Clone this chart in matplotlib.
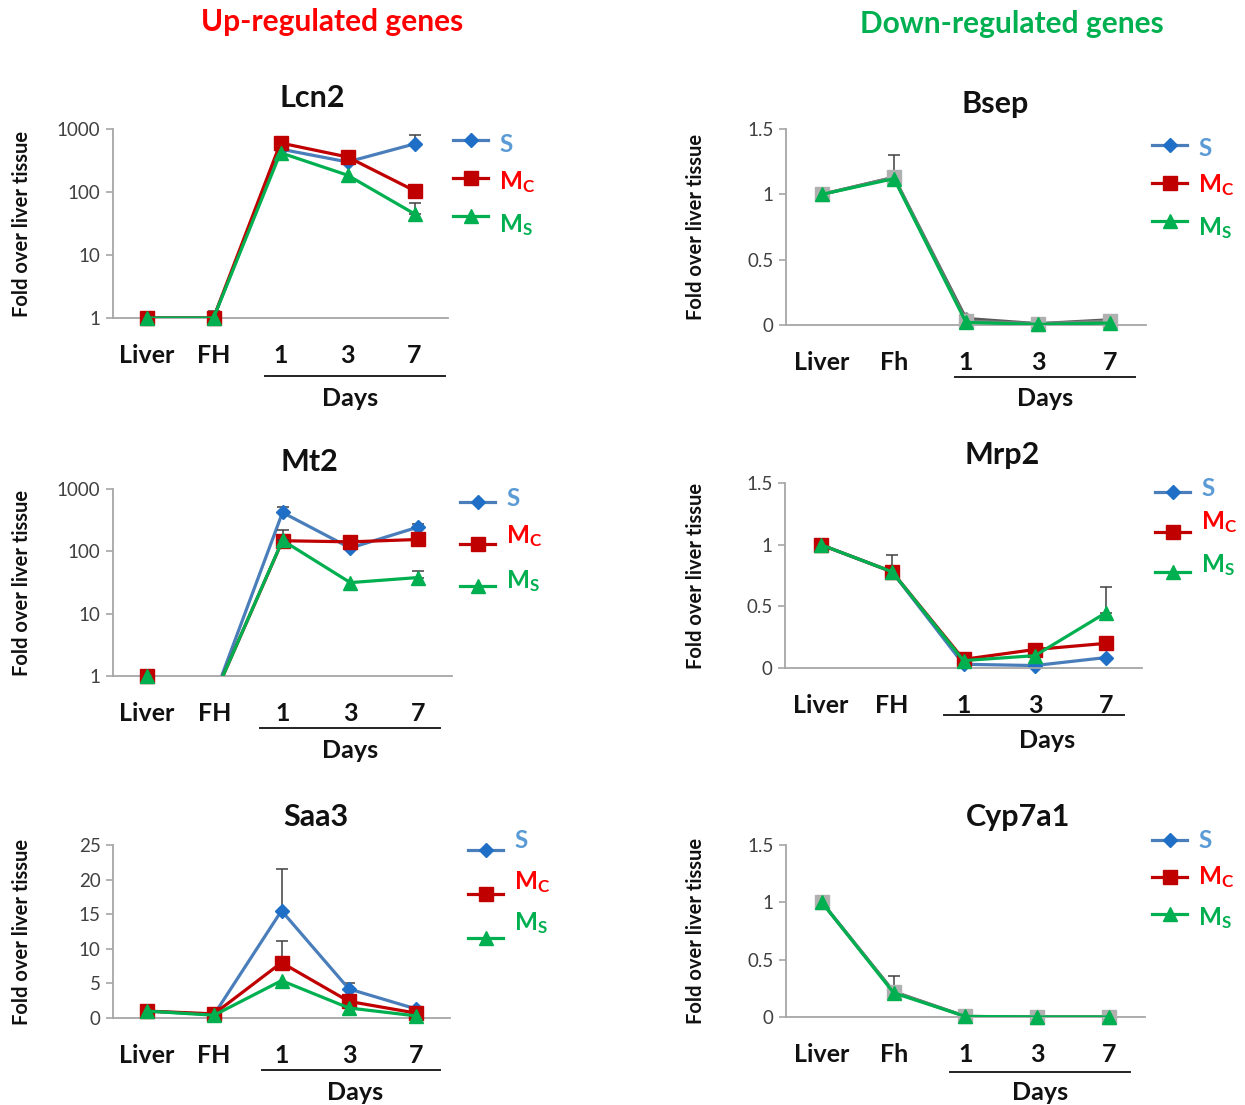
import matplotlib
matplotlib.use("Agg")
import matplotlib.pyplot as plt
from matplotlib.lines import Line2D
import numpy as np

plt.rcParams['font.family'] = ['Lato', 'DejaVu Sans']
plt.rcParams['mathtext.fontset'] = 'custom'
plt.rcParams['mathtext.rm'] = 'Lato'
plt.rcParams['mathtext.bf'] = 'Lato:bold'
plt.rcParams['mathtext.it'] = 'Lato:italic'

# categories
cats_up = ['Liver', 'FH', '1', '3', '7']
cats_fh = ['Liver', 'Fh', '1', '3', '7']

# Lcn2
lcn2_s = [1, 1, 480, 300, 580]
lcn2_mc = [1, 1, 600, 360, 105]
lcn2_ms = [1, 1, 420, 185, 45]
lcn2_s_err = [0, 0.3, 0, 0, 220]
lcn2_mc_err = [0, 0, 0, 0, 0]
lcn2_ms_err = [0, 0, 0, 0, 21]

# Mt2
mt2_s = [1, 0.5, 420, 113, 245]
mt2_mc = [1, 0.5, 148, 142, 155]
mt2_ms = [1, 0.5, 150, 31.5, 38]
mt2_s_err = [0, 0, 100, 0, 30]
mt2_mc_err = [0, 0, 0, 0, 0]
mt2_ms_err = [0, 0, 68, 0, 10]

# Saa3
saa3_s = [1, 0.5, 15.5, 4.2, 1.3]
saa3_mc = [1, 0.6, 8.0, 2.4, 0.7]
saa3_ms = [1, 0.4, 5.4, 1.45, 0.3]
saa3_s_err = [0, 0, 6.0, 0.8, 0.3]
saa3_mc_err = [0, 0, 3.15, 0, 0]
saa3_ms_err = [0, 0, 0, 0, 0]

# Bsep
bsep_s = [1, 1.13, 0.05, 0.01, 0.04]
bsep_mc = [1, 1.13, 0.03, 0.01, 0.03]
bsep_ms = [1, 1.12, 0.02, 0.005, 0.015]
bsep_s_err = [0, 0.17, 0.03, 0, 0.02]
bsep_mc_err = [0, 0, 0, 0, 0]
bsep_ms_err = [0, 0, 0, 0, 0]

# Mrp2
mrp2_s = [1, 0.78, 0.03, 0.02, 0.085]
mrp2_mc = [1, 0.78, 0.07, 0.15, 0.2]
mrp2_ms = [1, 0.78, 0.06, 0.1, 0.45]
mrp2_s_err = [0, 0, 0, 0, 0]
mrp2_mc_err = [0, 0.14, 0, 0, 0]
mrp2_ms_err = [0, 0, 0, 0, 0.21]

# Cyp7a1
cyp_s = [1, 0.22, 0.005, 0.0, 0.0]
cyp_mc = [1, 0.22, 0.005, 0.0, 0.0]
cyp_ms = [1, 0.21, 0.005, 0.0, 0.0]
cyp_s_err = [0, 0.14, 0, 0, 0]
cyp_mc_err = [0, 0, 0, 0, 0]
cyp_ms_err = [0, 0, 0, 0, 0]

W, H = 1245, 1105
fig = plt.figure(figsize=(W / 100, H / 100), dpi=100)

BLUE_L, BLUE_M, BLUE_T = '#4a7ebb', '#1f6fc6', '#5b9bd5'
RED, RED_T = '#c00000', '#ff0000'
GREEN = '#00b050'


def fx(x):
    return x / W


def fy(y):
    return 1 - y / H


def draw_series(ax, y, err, color, mcolor, marker, ms, log, z):
    x = np.arange(len(y))
    y = np.array(y, dtype=float)
    ax.plot(x, y, color=color, lw=2.3, zorder=z, clip_on=True)
    lo = 1 if log else 0
    keep = y >= lo
    ax.plot(x[keep], y[keep], ls='none', marker=marker, ms=ms, color=mcolor,
            mec=mcolor, zorder=z + 0.5, clip_on=False)
    err = np.array(err, dtype=float)
    e = err > 0
    if e.any():
        ax.errorbar(x[e], y[e], yerr=[np.zeros(e.sum()), err[e]], fmt='none',
                    ecolor='#404040', elinewidth=1.1, capsize=4, capthick=1.1,
                    zorder=z - 0.5, clip_on=False)


def panel(box, cats, title, title_xy, series, log, ylim, yticks, ylabels,
          ylabel_x, days, legend, grey=False):
    l, t, r, b = box
    ax = fig.add_axes([fx(l), fy(b), fx(r - l), (b - t) / H])
    (s, se), (mc, mce), (msr, mse) = series
    if grey:
        draw_series(ax, s, se, '#595959', '#8c8c8c', 'D', 6, log, 2)
        draw_series(ax, mc, mce, '#7f7f7f', '#b0b0b0', 's', 10, log, 3)
    else:
        draw_series(ax, s, se, BLUE_L, BLUE_M, 'D', 7, log, 2)
        draw_series(ax, mc, mce, RED, RED, 's', 10, log, 3)
    draw_series(ax, msr, mse, GREEN, GREEN, '^', 10, log, 4)
    if log:
        ax.set_yscale('log')
    ax.set_ylim(*ylim)
    ax.set_xlim(-0.5, 4.5)
    ax.set_yticks(yticks)
    ax.set_yticklabels(ylabels)
    ax.yaxis.set_minor_locator(matplotlib.ticker.NullLocator())
    ax.set_xticks(range(5))
    ax.set_xticklabels(cats, fontsize=18, fontweight='bold', color='#111111')
    ax.tick_params(axis='x', length=0, pad=19)
    ax.tick_params(axis='y', length=5, width=1.2, color='#a6a6a6',
                   labelsize=13.5, labelcolor='#404040', pad=4)
    for sp in ['top', 'right']:
        ax.spines[sp].set_visible(False)
    for sp in ['left', 'bottom']:
        ax.spines[sp].set_color('#a6a6a6')
        ax.spines[sp].set_linewidth(1.3)
    ax.set_ylabel('Fold over liver tissue', fontsize=14.5, fontweight='bold',
                  color='#111111')
    ax.yaxis.set_label_coords(-(l - ylabel_x) / (r - l), 0.5)
    fig.text(fx(title_xy[0]), fy(title_xy[1]), title, fontsize=22,
             fontweight='bold', ha='center', va='center', color='#111111')
    # days bracket
    dx0, dx1, dy, tx, ty = days
    fig.add_artist(Line2D([fx(dx0), fx(dx1)], [fy(dy), fy(dy)], color='#222222',
                          lw=1.4))
    fig.text(fx(tx), fy(ty), 'Days', fontsize=18, fontweight='bold',
             ha='center', va='center', color='#111111')
    # legend
    lx, ly, gap, tdy = legend
    items = [('D', 7, BLUE_L, BLUE_M, 'S', BLUE_T),
             ('s', 10, RED, RED, 'M$_\\mathbf{C}$', RED_T),
             ('^', 10, GREEN, GREEN, 'M$_\\mathbf{S}$', GREEN)]
    for i, (mk, msz, lc, mcol, lab, tc) in enumerate(items):
        yy = ly + i * gap
        fig.add_artist(Line2D([fx(lx), fx(lx + 35)], [fy(yy), fy(yy)],
                              color=lc, lw=2.3))
        fig.add_artist(Line2D([fx(lx + 17.5)], [fy(yy)], marker=mk, ms=msz,
                              color=mcol, ls='none'))
        fig.text(fx(lx + 46), fy(yy + tdy[i]), lab, fontsize=17.5,
                 fontweight='bold', color=tc, ha='left', va='center')
    return ax


log_ticks = [1, 10, 100, 1000]
log_labels = ['1', '10', '100', '1000']
lin_ticks = [0, 0.5, 1, 1.5]
lin_labels = ['0', '0.5', '1', '1.5']

panel((113, 129, 448, 318), cats_up, 'Lcn2', (312, 98),
      [(lcn2_s, lcn2_s_err), (lcn2_mc, lcn2_mc_err), (lcn2_ms, lcn2_ms_err)],
      True, (1, 1000), log_ticks, log_labels, 32,
      (265, 445, 376, 350, 398), (453, 140, 38, (5, 4, 9)))

panel((113, 489, 452, 676), cats_up, 'Mt2', (309, 462),
      [(mt2_s, mt2_s_err), (mt2_mc, mt2_mc_err), (mt2_ms, mt2_ms_err)],
      True, (1, 1000), log_ticks, log_labels, 32,
      (260, 440, 728, 350, 750), (460, 502, 42, (-3, -8, -5)))

panel((113, 845, 450, 1018), cats_up, 'Saa3', (316, 817),
      [(saa3_s, saa3_s_err), (saa3_mc, saa3_mc_err), (saa3_ms, saa3_ms_err)],
      False, (0, 25), [0, 5, 10, 15, 20, 25], ['0', '5', '10', '15', '20', '25'], 32,
      (262, 440, 1070, 355, 1092), (468, 850, 44, (-10, -12, -15)))

panel((786, 129, 1146, 325), cats_fh, 'Bsep', (995, 104),
      [(bsep_s, bsep_s_err), (bsep_mc, bsep_mc_err), (bsep_ms, bsep_ms_err)],
      False, (0, 1.5), lin_ticks, lin_labels, 706,
      (955, 1135, 377, 1045, 398), (1152, 145, 38, (3, 2, 7)), grey=True)

panel((785, 483, 1142, 668), cats_up, 'Mrp2', (1002, 455),
      [(mrp2_s, mrp2_s_err), (mrp2_mc, mrp2_mc_err), (mrp2_ms, mrp2_ms_err)],
      False, (0, 1.5), lin_ticks, lin_labels, 706,
      (944, 1124, 715, 1047, 740), (1155, 492, 40, (-3, -10, -7)))

panel((786, 845, 1145, 1017), cats_fh, 'Cyp7a1', (1018, 817),
      [(cyp_s, cyp_s_err), (cyp_mc, cyp_mc_err), (cyp_ms, cyp_ms_err)],
      False, (0, 1.5), lin_ticks, lin_labels, 706,
      (950, 1130, 1072, 1040, 1092), (1152, 840, 37, (0, 0, 4)), grey=True)

fig.text(fx(332), fy(22), 'Up-regulated genes', fontsize=21.5, fontweight='bold',
         color='#ff0000', ha='center', va='center')
fig.text(fx(1012), fy(24), 'Down-regulated genes', fontsize=21.5,
         fontweight='bold', color=GREEN, ha='center', va='center')

fig.savefig('out.png', dpi=100, facecolor='white')
